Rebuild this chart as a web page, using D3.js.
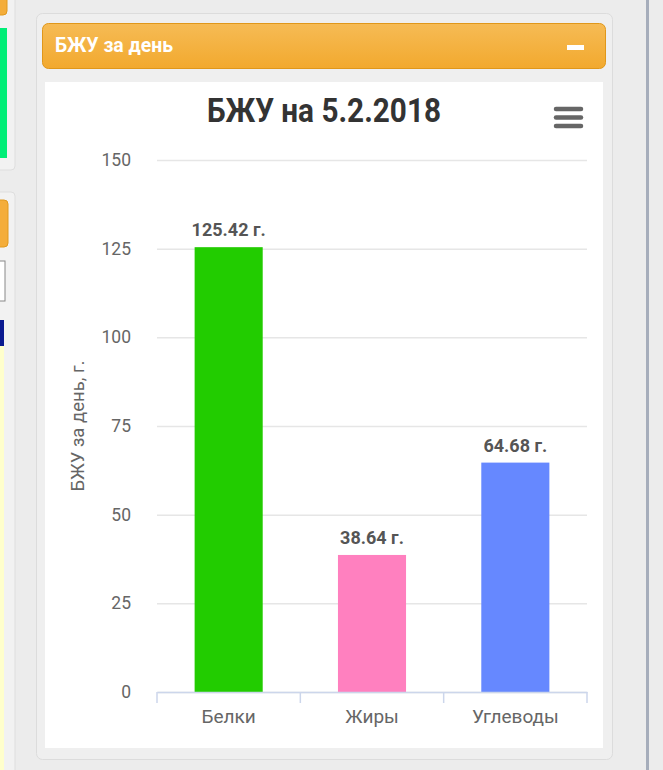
<!DOCTYPE html>
<html>
<head>
<meta charset="utf-8">
<script src="https://cdn.jsdelivr.net/npm/d3@7"></script>
<style>
  html, body { margin: 0; padding: 0; background: #ececec; overflow: hidden; }
  svg { display: block; font-family: Roboto, "Noto Sans", sans-serif; }
</style>
</head>
<body>
<script>

var w = 663;
var h = 770;

// chart data
var categories = ["Белки", "Жиры", "Углеводы"];
var values = [125.42, 38.64, 64.68];
var barColors = ["#22cc00", "#ff80bf", "#6688ff"];
var yTicks = [0, 25, 50, 75, 100, 125, 150];
var chartTitle = "БЖУ на 5.2.2018";
var panelTitle = "БЖУ за день";
var yTitle = "БЖУ за день, г.";

var svg = d3.select("body")
			.append("svg")
			.attr("width", w)
			.attr("height", h);

var defs = svg.append("defs");
var grad = defs.append("linearGradient")
	.attr("id", "hdr")
	.attr("x1", 0).attr("y1", 0).attr("x2", 0).attr("y2", 1);
grad.append("stop").attr("offset", "0%").attr("stop-color", "#f6bb55");
grad.append("stop").attr("offset", "100%").attr("stop-color", "#f2a92e");

// page background
svg.append("rect").attr("width", w).attr("height", h).attr("fill", "#ececec");

// left side panels (cut off)
var left = svg.append("g");
left.append("rect").attr("x", -10).attr("y", -10).attr("width", 25).attr("height", 180)
	.attr("rx", 4).attr("fill", "#f2f2f2").attr("stroke", "#dedede");
left.append("rect").attr("x", -10).attr("y", -10).attr("width", 17).attr("height", 25)
	.attr("rx", 4).attr("fill", "#f4ad3a").attr("stroke", "#e0991e");
left.append("rect").attr("x", -5).attr("y", 28).attr("width", 12).attr("height", 130)
	.attr("fill", "#00ee77");
left.append("rect").attr("x", -10).attr("y", 192).attr("width", 25).attr("height", 600)
	.attr("rx", 4).attr("fill", "#f2f2f2").attr("stroke", "#dedede");
left.append("rect").attr("x", -10).attr("y", 200).attr("width", 18).attr("height", 47)
	.attr("rx", 4).attr("fill", "#f4ad3a").attr("stroke", "#e0991e");
left.append("rect").attr("x", -5).attr("y", 261).attr("width", 10).attr("height", 40)
	.attr("fill", "#fff").attr("stroke", "#888");
left.append("rect").attr("x", -5).attr("y", 320).attr("width", 9).attr("height", 26)
	.attr("fill", "#0a1a90");
left.append("rect").attr("x", -5).attr("y", 346).attr("width", 9).attr("height", 430)
	.attr("fill", "#ffffcc");

// right separator
svg.append("rect").attr("x", 646).attr("y", 0).attr("width", 3).attr("height", h).attr("fill", "#a6adbb");

// main card
svg.append("rect").attr("x", 36.5).attr("y", 13.5).attr("width", 576).attr("height", 746)
	.attr("rx", 6).attr("fill", "#efefef").attr("stroke", "#dcdcdc");

// header bar
svg.append("rect").attr("x", 42.5).attr("y", 23.5).attr("width", 563).attr("height", 45)
	.attr("rx", 6).attr("fill", "url(#hdr)").attr("stroke", "#e0971a");
svg.append("text").attr("x", 55).attr("y", 52)
	.attr("font-size", "20px").attr("font-weight", "bold").attr("fill", "#fff")
	.attr("textLength", 118).attr("lengthAdjust", "spacingAndGlyphs")
	.text(panelTitle);
svg.append("rect").attr("x", 567).attr("y", 45).attr("width", 17).attr("height", 5)
	.attr("fill", "#fff");

// chart area
svg.append("rect").attr("x", 45).attr("y", 82).attr("width", 558).attr("height", 666)
	.attr("fill", "#fff");

svg.append("text").attr("x", 207).attr("y", 122)
	.attr("font-size", "33px").attr("font-weight", "bold").attr("fill", "#333")
	.attr("textLength", 234).attr("lengthAdjust", "spacingAndGlyphs")
	.text(chartTitle);

// menu icon
svg.append("g").selectAll("line")
	.data([109, 117.5, 126])
	.enter()
	.append("line")
	.attr("x1", 556).attr("x2", 581)
	.attr("y1", d => d).attr("y2", d => d)
	.attr("stroke", "#666").attr("stroke-width", 4.5).attr("stroke-linecap", "round");

var plot = { left: 157, right: 587, top: 160, bottom: 692 };

var xScale = d3.scaleBand()
	.domain(categories)
	.range([plot.left, plot.right])
	.paddingInner(0.525)
	.paddingOuter(0.2625);

var xBand = d3.scaleBand()
	.domain(categories)
	.range([plot.left, plot.right]);

var yScale = d3.scaleLinear()
	.domain([0, 150])
	.range([plot.bottom, plot.top]);

// grid + y labels
var yAxis = d3.axisLeft(yScale)
	.tickValues(yTicks)
	.tickSize(-(plot.right - plot.left))
	.tickPadding(26);

var yg = svg.append("g")
	.attr("transform", `translate(${plot.left}, 0)`)
	.call(yAxis);
yg.select(".domain").remove();
yg.selectAll(".tick line").attr("stroke", "#e6e6e6").attr("stroke-width", 1.5);
yg.selectAll(".tick text")
	.attr("font-family", "Roboto, sans-serif")
	.attr("font-size", "17.5px").attr("fill", "#666");

svg.append("text")
	.attr("transform", "translate(84, 426) rotate(-90)")
	.attr("text-anchor", "middle")
	.attr("font-size", "18.5px").attr("fill", "#666")
	.text(yTitle);

// bars
svg.append("g").selectAll("rect")
	.data(values)
	.enter()
	.append("rect")
	.attr("x", (d, i) => xScale(categories[i]))
	.attr("y", d => yScale(d))
	.attr("width", xScale.bandwidth())
	.attr("height", d => yScale(0) - yScale(d))
	.attr("fill", (d, i) => barColors[i]);

svg.append("g").selectAll("text")
	.data(values)
	.enter()
	.append("text")
	.attr("x", (d, i) => xScale(categories[i]) + xScale.bandwidth() / 2)
	.attr("y", d => yScale(d) - 11)
	.attr("text-anchor", "middle")
	.attr("font-size", "18px").attr("font-weight", "bold").attr("fill", "#555")
	.text(d => d.toFixed(2) + " г.");

// x axis
var xAxis = d3.axisBottom(xBand).tickSize(0).tickPadding(18);
var xg = svg.append("g")
	.attr("transform", `translate(0, ${plot.bottom})`)
	.call(xAxis);
xg.select(".domain").attr("stroke", "#ccd6eb").attr("stroke-width", 1.5);
xg.selectAll(".tick text")
	.attr("font-family", "Roboto, sans-serif")
	.attr("font-size", "19px").attr("fill", "#666");

var boundaries = [plot.left].concat(categories.map(c => xBand(c) + xBand.bandwidth()));
xg.selectAll(".sep")
	.data(boundaries)
	.enter()
	.append("line")
	.attr("x1", d => d).attr("x2", d => d)
	.attr("y1", 0).attr("y2", 11)
	.attr("stroke", "#ccd6eb").attr("stroke-width", 1.5);

</script>
</body>
</html>
